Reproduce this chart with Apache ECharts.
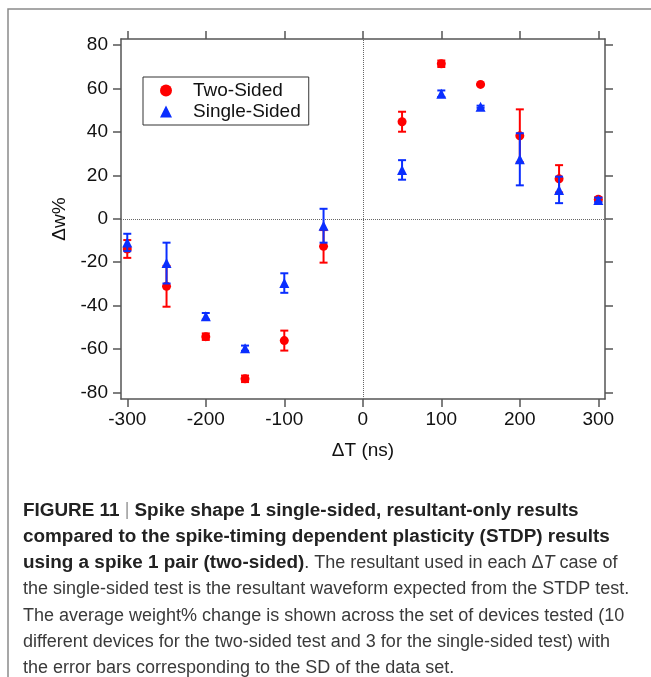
<!DOCTYPE html>
<html>
<head>
<meta charset="utf-8">
<script src="https://cdn.jsdelivr.net/npm/echarts@6/dist/echarts.min.js"></script>
<style>
  html, body { margin: 0; padding: 0; background: #fff; }
  #main { width: 651px; height: 677px; }
</style>
</head>
<body>
<div id="main"></div>
<script>
// delta T values (ns)
var deltaT = [-300, -250, -200, -150, -100, -50, 50, 100, 150, 200, 250, 300];
// two-sided (STDP) weight change % and SD
var twoSided = [-13.9, -31.1, -54.3, -73.7, -56.1, -12.7, 44.7, 71.4, 61.9, 38.2, 18.4, 9.0];
var twoSidedSD = [4.1, 9.4, 1.5, 1.5, 4.6, 7.5, 4.6, 1.5, 0, 12.2, 6.3, 1.0];
// single-sided weight change % and SD
var singleSided = [-10.9, -20.4, -44.9, -59.6, -29.6, -3.2, 22.5, 57.6, 51.6, 27.4, 13.3, 8.7];
var singleSidedSD = [4.0, 9.4, 1.5, 1.2, 4.5, 7.8, 4.5, 1.5, 0.5, 12.0, 6.1, 1.0];

var xTicks = [-300, -200, -100, 0, 100, 200, 300];
var yTicks = [-80, -60, -40, -20, 0, 20, 40, 60, 80];

var captionLines = [
  '{b|FIGURE 11 }{p|| }{b|Spike shape 1 single-sided, resultant-only results}',
  '{b|compared to the spike-timing dependent plasticity (STDP) results}',
  '{b|using a spike 1 pair (two-sided)}{n|. The resultant used in each \u0394}{i|T}{n| case of}',
  '{n|the single-sided test is the resultant waveform expected from the STDP test.}',
  '{n|The average weight% change is shown across the set of devices tested (10}',
  '{n|different devices for the two-sided test and 3 for the single-sided test) with}',
  '{n|the error bars corresponding to the SD of the data set.}'
];

var RED = '#ff0000';
var BLUE = '#0a2eff';
var FONT = 'Liberation Sans, Arial, sans-serif';
var AXIS = '#555';

function points(ys) {
  return deltaT.map(function (x, i) { return [x, ys[i]]; });
}
function bars(ys, sd) {
  return deltaT.map(function (x, i) { return [x, ys[i] - sd[i], ys[i] + sd[i]]; });
}
function errRender(color) {
  return function (params, api) {
    var x = api.value(0);
    var top = api.coord([x, api.value(2)]);
    var bot = api.coord([x, api.value(1)]);
    var w = 4;
    var st = { stroke: color, lineWidth: 2 };
    return {
      type: 'group',
      children: [
        { type: 'line', shape: { x1: top[0], y1: top[1], x2: bot[0], y2: bot[1] }, style: st },
        { type: 'line', shape: { x1: top[0] - w, y1: top[1], x2: top[0] + w, y2: top[1] }, style: st },
        { type: 'line', shape: { x1: bot[0] - w, y1: bot[1], x2: bot[0] + w, y2: bot[1] }, style: st }
      ]
    };
  };
}

var chart = echarts.init(document.getElementById('main'), null, { renderer: 'canvas' });

var xBase = {
  type: 'value', min: -308, max: 308.5,
  axisLine: { show: true, onZero: false, lineStyle: { color: AXIS, width: 1.5 } },
  axisTick: { show: true, inside: false, length: 8, customValues: xTicks, lineStyle: { color: AXIS, width: 1.5 } },
  splitLine: { show: false }
};
var yBase = {
  type: 'value', min: -83, max: 82.8,
  axisLine: { show: true, onZero: false, lineStyle: { color: AXIS, width: 1.5 } },
  axisTick: { show: true, inside: false, length: 8, customValues: yTicks, lineStyle: { color: AXIS, width: 1.5 } },
  splitLine: { show: false }
};

var option = {
  animation: false,
  backgroundColor: '#fff',
  textStyle: { fontFamily: FONT },
  grid: { left: 121, right: 46, top: 39, bottom: 278, containLabel: false, outerBoundsMode: 'none' },
  xAxis: [
    Object.assign({}, xBase, {
      position: 'bottom',
      name: '\u0394T (ns)', nameLocation: 'middle', nameGap: 42,
      nameTextStyle: { fontSize: 19, color: '#111', fontFamily: FONT },
      axisLabel: { show: true, customValues: xTicks, margin: 11, fontSize: 19, color: '#111', fontFamily: FONT }
    }),
    Object.assign({}, xBase, { position: 'top', axisLabel: { show: false } })
  ],
  yAxis: [
    Object.assign({}, yBase, {
      position: 'left',
      name: '\u0394w%', nameLocation: 'middle', nameGap: 51, nameRotate: 90,
      nameTextStyle: { fontSize: 19, color: '#111', fontFamily: FONT },
      axisLabel: { show: true, customValues: yTicks, margin: 13, fontSize: 19, color: '#111', fontFamily: FONT }
    }),
    Object.assign({}, yBase, { position: 'right', axisLabel: { show: false } })
  ],
  legend: {
    orient: 'vertical', left: 143, top: 77,
    backgroundColor: '#fff', borderColor: '#333', borderWidth: 1,
    padding: [4, 8, 4, 17], itemGap: 2,
    itemWidth: 12, itemHeight: 12,
    textStyle: { fontSize: 19, color: '#111', fontFamily: FONT, padding: [0, 0, 0, 16] },
    data: [
      { name: 'Two-Sided', icon: 'circle' },
      { name: 'Single-Sided', icon: 'triangle' }
    ]
  },
  graphic: [
    { type: 'polyline', silent: true, shape: { points: [[8, 677], [8, 9], [651, 9]] }, style: { stroke: '#8a8a8a', lineWidth: 1.5, fill: null } }
  ].concat(captionLines.map(function (t, i) {
    return {
      type: 'text', x: 23, y: 510.5 + i * 26.3,
      style: {
        text: t, verticalAlign: 'middle', fontFamily: FONT,
        rich: {
          b: { fontSize: 18.9, fontWeight: 'bold', fill: '#222', fontFamily: FONT },
          n: { fontSize: 18, fill: '#3a3a3a', fontFamily: FONT },
          i: { fontSize: 18, fontStyle: 'italic', fill: '#3a3a3a', fontFamily: FONT },
          p: { fontSize: 18, fill: '#999', fontFamily: FONT }
        }
      }
    };
  })),
  series: [
    {
      name: 'Two-Sided err', type: 'custom', renderItem: errRender(RED),
      data: bars(twoSided, twoSidedSD), z: 3, silent: true,
      markLine: {
        silent: true, symbol: ['none', 'none'], label: { show: false },
        lineStyle: { type: 'dotted', color: '#666', width: 1 },
        data: [{ xAxis: 0 }, { yAxis: 0 }]
      }
    },
    {
      name: 'Two-Sided', type: 'scatter', symbol: 'circle', symbolSize: 9,
      itemStyle: { color: RED, opacity: 1 }, data: points(twoSided), z: 4
    },
    {
      name: 'Single-Sided err', type: 'custom', renderItem: errRender(BLUE),
      data: bars(singleSided, singleSidedSD), z: 5, silent: true
    },
    {
      name: 'Single-Sided', type: 'scatter', symbol: 'triangle', symbolSize: 10,
      itemStyle: { color: BLUE, opacity: 1 }, data: points(singleSided), z: 6
    }
  ]
};

chart.setOption(option);
</script>
</body>
</html>
